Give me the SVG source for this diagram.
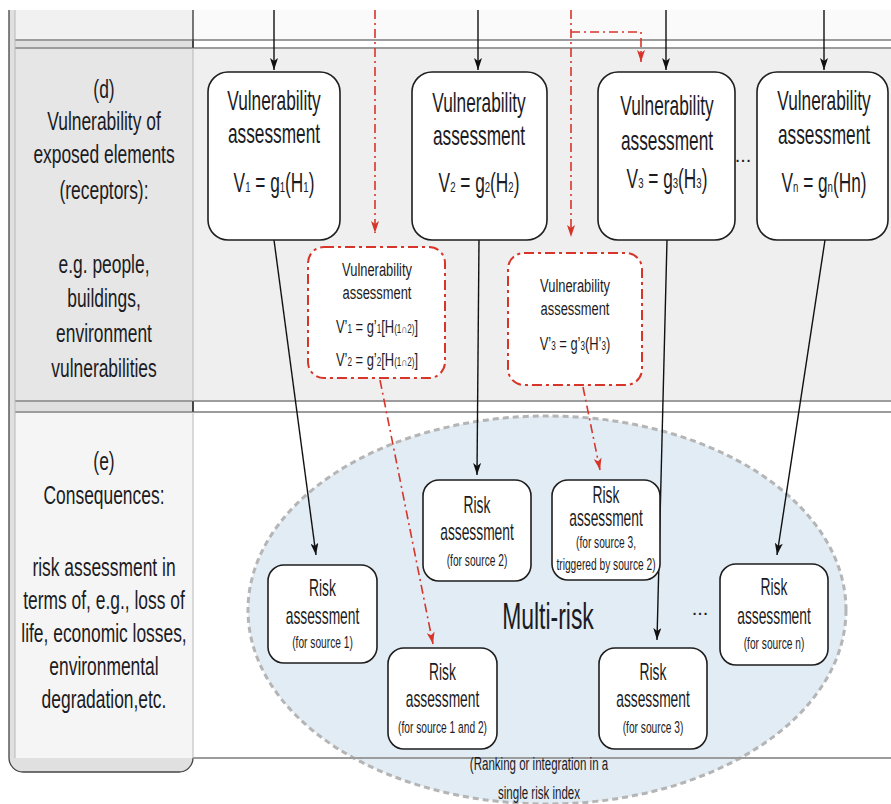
<svg xmlns="http://www.w3.org/2000/svg" width="891" height="804" viewBox="0 0 891 804">
<style>
text{font-family:"Liberation Sans",Arial,sans-serif;fill:#1b1b24;text-anchor:middle}
.lbl{font-size:26px}
.vb{fill:#fff;stroke:#1e1e1e;stroke-width:1.6}
.vt{font-size:27px}
.sb{font-size:15px}
.db{fill:#fff;stroke:#d8352a;stroke-width:2;stroke-dasharray:10 4 3 4}
.dt{font-size:19px}
.ds{font-size:12px}
.rb{fill:#fff;stroke:#1e1e1e;stroke-width:1.6}
.rt{font-size:23px}
.rs{font-size:17px}
.blk{stroke:#111;stroke-width:1.4;fill:none;marker-end:url(#ab)}
.red{stroke:#d8352a;stroke-width:1.6;fill:none;stroke-dasharray:9 4 2 4}
.ra{marker-end:url(#ar)}
.rl{stroke:#9c9c9c;stroke-width:2.2;fill:none}
.cl{stroke:#b8b8b8;stroke-width:1;fill:none}
.bk{stroke:#222;stroke-width:1.2;fill:none}
</style>
<defs>
<marker id="ab" viewBox="0 0 12 8" refX="12" refY="4" markerWidth="12" markerHeight="8" markerUnits="userSpaceOnUse" orient="auto">
<path d="M0 0 L12 4 L0 8 L3 4 Z" fill="#111"/>
</marker>
<marker id="ar" viewBox="0 0 12 8" refX="12" refY="4" markerWidth="12" markerHeight="8" markerUnits="userSpaceOnUse" orient="auto">
<path d="M0 0 L12 4 L0 8 L3 4 Z" fill="#d8352a"/>
</marker>
</defs>
<rect x="0" y="0" width="891" height="804" fill="#fff"/>
<g id="frame">
<path d="M9 10 V758 A14 14 0 0 0 23 772 H179 A14 14 0 0 0 193 758 V10" fill="#e0e0e0" stroke="#444" stroke-width="1.3"/>
<rect x="15" y="10" width="178" height="30" fill="#f1f1f1"/>
<rect x="193" y="10" width="698" height="30" fill="#fafafa"/>
<rect x="15" y="48" width="178" height="353" fill="#e6e6e6"/>
<rect x="193" y="48" width="698" height="353" fill="#efefef"/>
<rect x="15" y="412" width="178" height="346" fill="#f5f5f5"/>
<rect x="193" y="412" width="698" height="346" fill="#fff"/>
<path class="rl" d="M15 40 H891 M15 48 H891 M15 401 H891 M15 412 H891"/>
<path class="cl" d="M15 10 V758 M193 48 V401 M193 412 V758"/>
<path class="bk" d="M193 10 V48 M193 401 V412"/>
</g>
<g id="multirisk-region">
<ellipse cx="547" cy="610" rx="299" ry="194" fill="#e2ecf4" stroke="#b5b5b5" stroke-width="3" stroke-dasharray="6 4"/>
<path class="rl" d="M193 758 H891"/>
<text x="548" y="629" font-size="37" transform="translate(548 0) scale(0.62 1) translate(-548 0)">Multi-risk</text>
<g transform="translate(539 0) scale(0.64 1)">
<text x="0" y="770" font-size="18">(Ranking or integration in a</text>
<text x="0" y="799" font-size="18">single risk index</text>
</g>
<text x="700" y="615" font-size="20">...</text>
<text x="743" y="162" font-size="20">...</text>
</g>
<g id="label-d" transform="translate(104 0) scale(0.67 1)">
<text class="lbl" y="98">(d)</text>
<text class="lbl" y="130">Vulnerability of</text>
<text class="lbl" y="163">exposed elements</text>
<text class="lbl" y="199">(receptors):</text>
<text class="lbl" y="273">e.g. people,</text>
<text class="lbl" y="307">buildings,</text>
<text class="lbl" y="342">environment</text>
<text class="lbl" y="377">vulnerabilities</text>
</g>
<g id="label-e" transform="translate(104 0) scale(0.67 1)">
<text class="lbl" y="470">(e)</text>
<text class="lbl" y="504">Consequences:</text>
<text class="lbl" y="576">risk assessment in</text>
<text class="lbl" y="609">terms of, e.g., loss of</text>
<text class="lbl" y="642">life, economic losses,</text>
<text class="lbl" y="675">environmental</text>
<text class="lbl" y="708">degradation,etc.</text>
</g>
<g id="connectors">
<path class="blk" d="M274 10 V70"/>
<path class="blk" d="M478 10 V70"/>
<path class="blk" d="M666 10 V70"/>
<path class="blk" d="M824 10 V70"/>
<path class="blk" d="M274 240 L316 555"/>
<path class="blk" d="M479 240 L477 475"/>
<path class="blk" d="M667 240 L657 640"/>
<path class="blk" d="M825 240 L777 555"/>
<path class="red ra" d="M375 10 V233"/>
<path class="red ra" d="M571 10 V237"/>
<path class="red ra" d="M571 32 H641 V62"/>
<path class="red ra" d="M380 380 L433 644"/>
<path class="red ra" d="M583 387 L600 470"/>
</g>
<g id="v1">
<rect class="vb" x="208" y="72" width="132" height="168" rx="20"/>
<g transform="translate(274 0) scale(0.64 1)">
<text class="vt" y="110">Vulnerability</text>
<text class="vt" y="143">assessment</text>
<text class="vt" y="192">V<tspan class="sb">1</tspan> = g<tspan class="sb">1</tspan>(H<tspan class="sb">1</tspan>)</text>
</g>
</g>
<g id="v2">
<rect class="vb" x="412" y="72" width="135" height="168" rx="20"/>
<g transform="translate(479 0) scale(0.64 1)">
<text class="vt" y="112">Vulnerability</text>
<text class="vt" y="145">assessment</text>
<text class="vt" y="192">V<tspan class="sb">2</tspan> = g<tspan class="sb">2</tspan>(H<tspan class="sb">2</tspan>)</text>
</g>
</g>
<g id="v3">
<rect class="vb" x="598" y="72" width="137" height="168" rx="20"/>
<g transform="translate(667 0) scale(0.64 1)">
<text class="vt" y="115">Vulnerability</text>
<text class="vt" y="150">assessment</text>
<text class="vt" y="188">V<tspan class="sb">3</tspan> = g<tspan class="sb">3</tspan>(H<tspan class="sb">3</tspan>)</text>
</g>
</g>
<g id="vn">
<rect class="vb" x="757" y="72" width="131" height="168" rx="20"/>
<g transform="translate(824 0) scale(0.64 1)">
<text class="vt" y="110">Vulnerability</text>
<text class="vt" y="144">assessment</text>
<text class="vt" y="192">V<tspan class="sb">n</tspan> = g<tspan class="sb">n</tspan>(Hn)</text>
</g>
</g>
<g id="v12prime">
<rect class="db" x="308" y="247" width="137" height="131" rx="16"/>
<g transform="translate(377 0) scale(0.68 1)">
<text class="dt" y="276">Vulnerability</text>
<text class="dt" y="299">assessment</text>
<text class="dt" y="333">V’<tspan class="ds">1</tspan> = g’<tspan class="ds">1</tspan>[H<tspan class="ds">(1∩2)</tspan>]</text>
<text class="dt" y="366">V’<tspan class="ds">2</tspan> = g’<tspan class="ds">2</tspan>[H<tspan class="ds">(1∩2)</tspan>]</text>
</g>
</g>
<g id="v3prime">
<rect class="db" x="508" y="253" width="134" height="132" rx="16"/>
<g transform="translate(575 0) scale(0.68 1)">
<text class="dt" y="292">Vulnerability</text>
<text class="dt" y="315">assessment</text>
<text class="dt" y="350">V’<tspan class="ds">3</tspan> = g’<tspan class="ds">3</tspan>(H’<tspan class="ds">3</tspan>)</text>
</g>
</g>
<g id="r1">
<rect class="rb" x="268" y="565" width="109" height="98" rx="16"/>
<g transform="translate(322.5 0) scale(0.6 1)">
<text class="rt" y="596">Risk</text>
<text class="rt" y="624">assessment</text>
<text class="rs" y="648">(for source 1)</text>
</g>
</g>
<g id="r2">
<rect class="rb" x="423" y="480" width="108" height="101" rx="16"/>
<g transform="translate(477 0) scale(0.6 1)">
<text class="rt" y="513">Risk</text>
<text class="rt" y="540">assessment</text>
<text class="rs" y="566">(for source 2)</text>
</g>
</g>
<g id="r3t">
<rect class="rb" x="552" y="480" width="108" height="100" rx="16"/>
<g transform="translate(606 0) scale(0.6 1)">
<text class="rt" y="503">Risk</text>
<text class="rt" y="526">assessment</text>
<text class="rs" y="548">(for source 3,</text>
<text class="rs" y="570">triggered by source 2)</text>
</g>
</g>
<g id="rn">
<rect class="rb" x="720" y="564" width="108" height="101" rx="16"/>
<g transform="translate(774 0) scale(0.6 1)">
<text class="rt" y="595">Risk</text>
<text class="rt" y="624">assessment</text>
<text class="rs" y="649">(for source n)</text>
</g>
</g>
<g id="r12">
<rect class="rb" x="388" y="648" width="109" height="101" rx="16"/>
<g transform="translate(442.5 0) scale(0.6 1)">
<text class="rt" y="680">Risk</text>
<text class="rt" y="707">assessment</text>
<text class="rs" y="733">(for source 1 and 2)</text>
</g>
</g>
<g id="r3">
<rect class="rb" x="599" y="648" width="108" height="101" rx="16"/>
<g transform="translate(653 0) scale(0.6 1)">
<text class="rt" y="680">Risk</text>
<text class="rt" y="707">assessment</text>
<text class="rs" y="733">(for source 3)</text>
</g>
</g>
</svg>
